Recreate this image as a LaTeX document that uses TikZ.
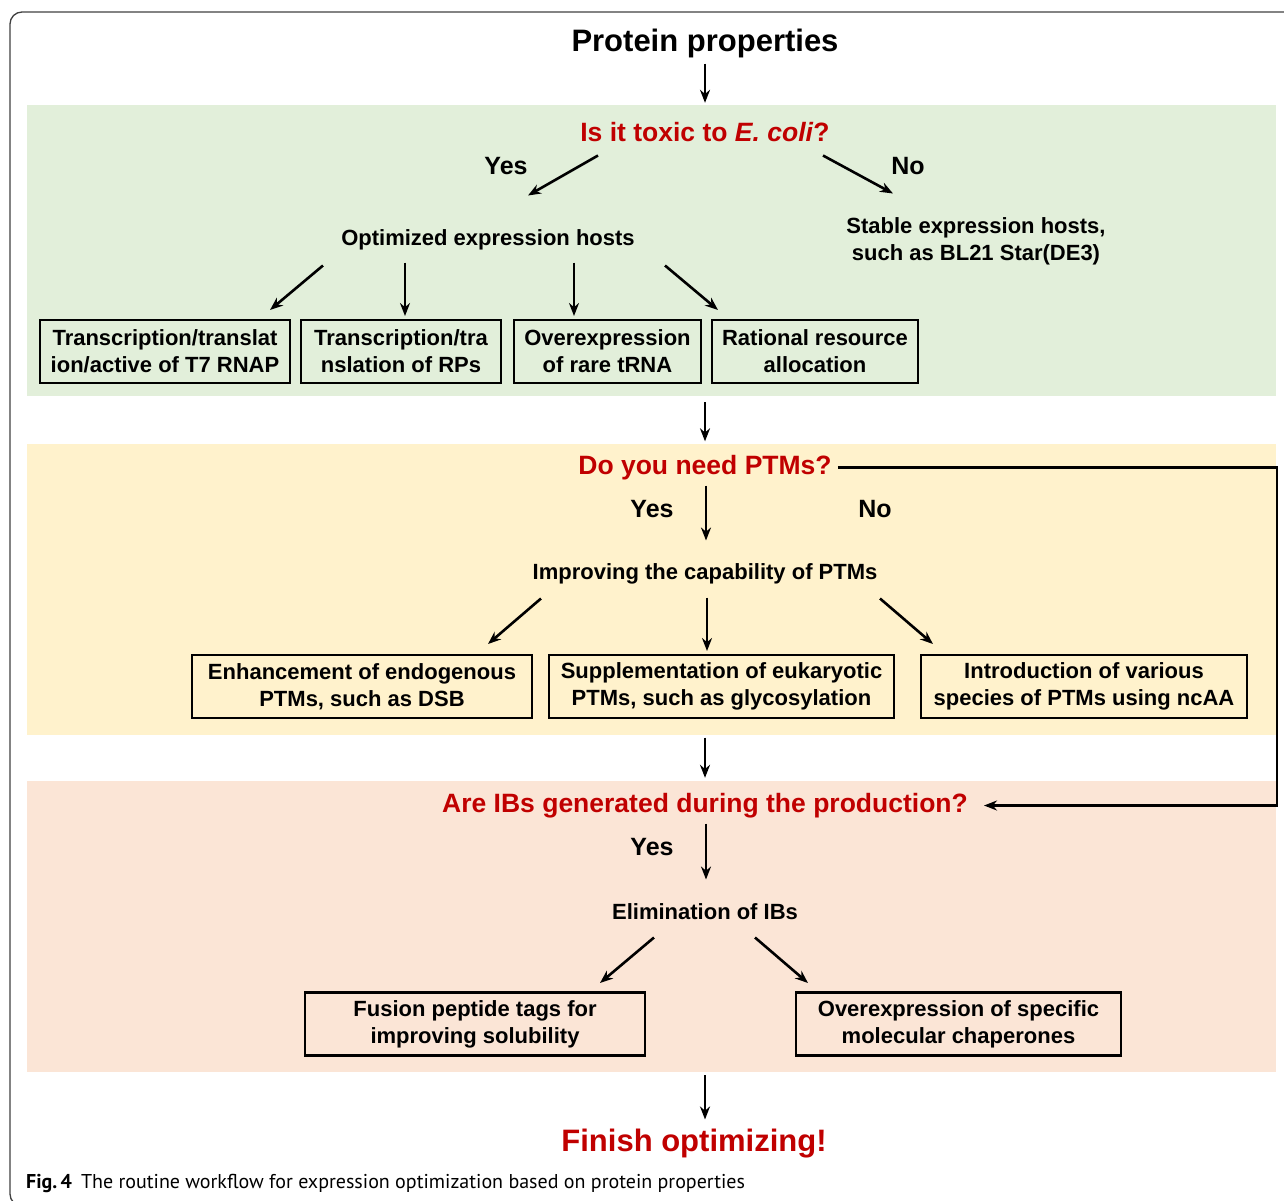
\documentclass[tikz,border=0pt]{standalone}
\usepackage{fontspec}
\setmainfont{Liberation Sans}
\newfontfamily\capfont{PT Sans}
\usepackage{xcolor}
\definecolor{qred}{HTML}{C00000}
\definecolor{hostgreen}{HTML}{E2EFDA}
\definecolor{ptmyellow}{HTML}{FFF2CC}
\definecolor{ibpink}{HTML}{FBE5D6}
\usepackage{tikz}
\usetikzlibrary{positioning,arrows.meta,calc}

\begin{document}
\begin{tikzpicture}[x=1pt, y=-1pt,
      panel/.style={minimum width=1249, minimum height=291, inner sep=0, draw=none},
      box/.style={draw=black, line width=2.8pt, minimum height=63, inner sep=2pt,
                  align=center, font=\fontsize{22}{27}\selectfont\bfseries},
      quest/.style={text=qred, inner sep=2pt, yshift=-2.5pt, font=\fontsize{26.5}{30}\selectfont\bfseries},
      ans/.style={yshift=-2pt, font=\fontsize{25}{28}\selectfont\bfseries},
      lbl/.style={align=center, yshift=-2.5pt, font=\fontsize{22}{27}\selectfont\bfseries},
      big/.style={yshift=-2.5pt, font=\fontsize{31}{34}\selectfont\bfseries},
      arr/.style={-{Stealth[length=13pt, width=10pt]}, line width=2.6pt}]
    \useasboundingbox (0,0) rectangle (1284,1200);
    \draw[line width=1.3pt, black!75, rounded corners=12pt]
      (1300,12) -- (10,12) -- (10,1206) -- (60,1206);

    % background panels
    \node[panel, fill=hostgreen] (pg) at (651.5,250.5) {};
    \node[panel, fill=ptmyellow] (py) at (651.5,589) {};
    \node[panel, fill=ibpink]    (pp) at (651.5,926.5) {};

    % toxicity
    \node[big] (prop) at (705,41) {Protein properties};
    \node[quest] (toxic) at (705,130) {Is it toxic to \textit{E. coli}?};
    \node[ans] (yes1) at (506,164) {Yes};
    \node[ans] (no1)  at (908,164) {No};
    \node[lbl] (opt)  at (488,237) {Optimized expression hosts};
    \node[lbl] (stab) at (976,239) {Stable expression hosts,\\such as BL21 Star(DE3)};
    \node[box, minimum width=250] (b1) at (165,351.5) {Transcription/translat\\ion/active of T7 RNAP};
    \node[box, minimum width=200] (b2) at (401,351.5) {Transcription/tra\\nslation of RPs};
    \node[box, minimum width=187] (b3) at (607.5,351.5) {Overexpression\\of rare tRNA};
    \node[box, minimum width=206] (b4) at (815,351.5) {Rational resource\\allocation};

    \draw[arr] ($(prop)+(0,20)$) -- ($(pg.north -| prop)+(0,-2)$);
    \draw[arr] ($(toxic)+(-107,23)$) -- ($(opt)+(40,-44)$);
    \draw[arr] ($(toxic)+(118,23)$) -- ($(stab)+(-83,-48)$);
    \draw[arr] ($(opt)+(-165,26)$) -- ($(b1)+(105,-41.5)$);
    \draw[arr] ($(opt)+(-83,23)$) -- ($(b2)+(4,-35.5)$);
    \draw[arr] ($(opt)+(86,23)$) -- ($(b3)+(-33.5,-35.5)$);
    \draw[arr] ($(opt)+(177,26)$) -- ($(b4)+(-97,-41.5)$);
    \draw[arr] ($(pg.south -| prop)+(0,6)$) -- ($(py.north -| prop)+(0,-2)$);

    % PTMs
    \node[quest] (ptm) at (705,465) {Do you need PTMs?};
    \node[ans] (yes2) at (652,507) {Yes};
    \node[ans] (no2)  at (875,507) {No};
    \node[lbl] (imp)  at (705,571) {Improving the capability of PTMs};
    \node[box, minimum width=340] (c1) at (362,686.5) {Enhancement of endogenous\\PTMs, such as DSB};
    \node[box, minimum width=345] (c2) at (721.5,686.5) {Supplementation of eukaryotic\\PTMs, such as glycosylation};
    \node[box, minimum width=326] (c3) at (1084,686.5) {Introduction of various\\species of PTMs using ncAA};

    \draw[arr] ($(ptm)+(1,18)$) -- ($(imp)+(1,-33)$);
    \draw[arr] ($(imp)+(-164,25)$) -- ($(c1)+(126,-42.5)$);
    \draw[arr] ($(imp)+(2,24)$) -- ($(c2)+(-14.5,-35.5)$);
    \draw[arr] ($(imp)+(175,25)$) -- ($(c3)+(-151,-42.5)$);
    \draw[arr] ($(py.south -| prop)+(0,3)$) -- ($(pp.north -| prop)+(0,-3)$);

    % inclusion bodies
    \node[quest] (ibs) at (705,803) {Are IBs generated during the production?};
    \coordinate (loopc) at (1277,467);
    \draw[arr, shorten <=4pt, shorten >=14pt] (ptm.east) -- (ptm.east -| loopc) |- (ibs.east);
    \node[ans] (yes3) at (652,845) {Yes};
    \node[lbl] (elim) at (705,909) {Elimination of IBs};
    \node[box, minimum width=340] (d1) at (475,1024) {Fusion peptide tags for\\improving solubility};
    \node[box, minimum width=325] (d2) at (958.5,1024) {Overexpression of specific\\molecular chaperones};

    \draw[arr] ($(ibs)+(1,18)$) -- ($(elim)+(1,-32)$);
    \draw[arr] ($(elim)+(-51,26)$) -- ($(d1)+(125,-41)$);
    \draw[arr] ($(elim)+(50,26)$) -- ($(d2)+(-150.5,-41)$);

    % finish
    \node[big, text=qred] (fin) at (694,1141) {Finish optimizing!};
    \draw[arr] ($(pp.south -| prop)+(0,3)$) -- ($(fin.north -| prop)+(0,-6)$);

    \node[anchor=west, inner sep=0, font=\capfont\fontsize{20}{23}\selectfont] (cap) at (26,1183)
      {\textbf{Fig.\,4}\hspace{9pt}The routine workflow for expression optimization based on protein properties};
  \end{tikzpicture}
\end{document}
